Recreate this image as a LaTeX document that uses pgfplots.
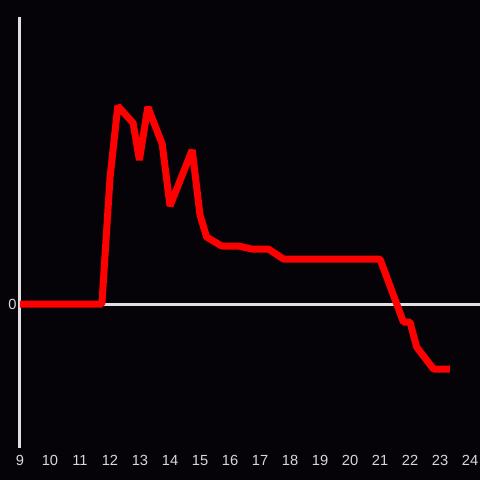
\documentclass[border=0pt]{standalone}
\usepackage{fontspec}
\setmainfont{Liberation Sans}
\usepackage{pgfplots}
\pgfplotsset{compat=1.18}
\definecolor{bg}{HTML}{050308}
\definecolor{ax}{HTML}{E0E0E0}
\definecolor{lbl}{HTML}{D8D8D8}
\begin{document}
\begin{tikzpicture}
\fill[bg] (-15pt,-24pt) rectangle (345pt,336pt);
\useasboundingbox (-15pt,-24pt) rectangle (345pt,336pt);
\begin{axis}[
  at={(0,0)}, anchor=south west,
  scale only axis, width=345pt, height=323.25pt,
  xmin=9, xmax=24.333, ymin=-144, ymax=287,
  axis y line*=left,
  axis x line*=bottom,
  x axis line style={draw=none},
  y axis line style={draw=ax, line width=2.25pt, -},
  xtick={9,10,...,24}, ytick={0},
  major tick length=0pt,
  tick label style={font=\fontsize{11}{13}\selectfont, text=lbl},
  xticklabel style={yshift=-2pt},
  yticklabel style={xshift=1pt},
  /pgf/number format/assume math mode=true,
  clip=false,
]
\draw[ax, line width=2.25pt] (axis cs:9,0) -- (axis cs:24.333,0);
\addplot[red, line width=5.25pt, line join=bevel, mark=none] coordinates {
(9,0) (11.73,0) (12.0,126) (12.26,198) (12.77,181) (12.98,144) (13.26,197)
(13.74,160) (14.0,98) (14.74,154) (15.0,89) (15.22,67) (15.72,58) (16.28,58)
(16.72,55) (17.28,55) (17.78,45) (21.0,45) (21.78,-18) (22.0,-18)
(22.22,-43) (22.78,-65) (23.33,-65)
};
\end{axis}
\end{tikzpicture}
\end{document}
